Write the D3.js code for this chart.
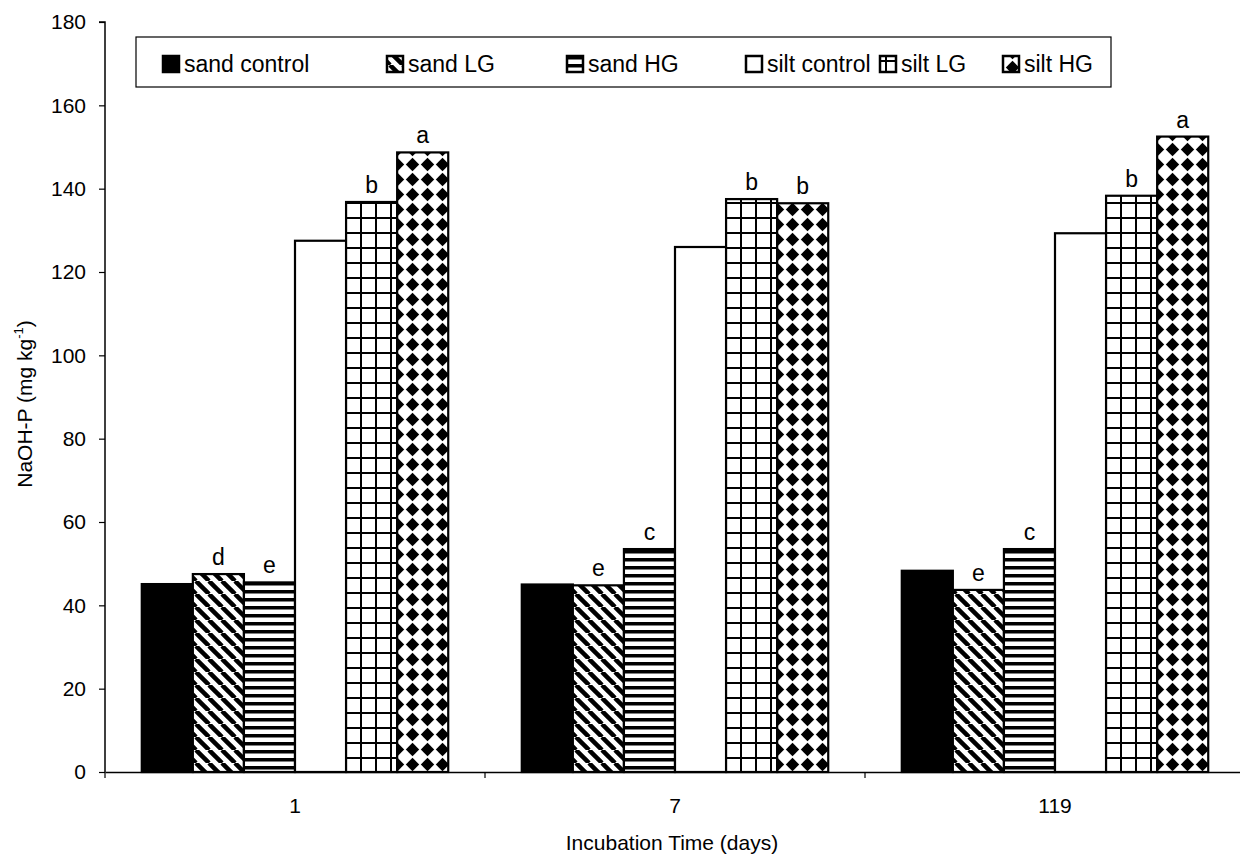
<!DOCTYPE html>
<html>
<head>
<meta charset="utf-8">
<script src="https://d3js.org/d3.v7.min.js"></script>
<style>
  body { margin: 0; background: #fff; }
  text { font-family: "Liberation Sans", Arial, sans-serif; fill: #000; }
</style>
</head>
<body>
<div id="chart"></div>
<script>
// data
const days = ["1", "7", "119"];
const treatments = ["sand control", "sand LG", "sand HG", "silt control", "silt LG", "silt HG"];
const sandControl = [45.1, 45.0, 48.3];
const sandLG      = [47.5, 44.8, 43.7];
const sandHG      = [45.5, 53.5, 53.5];
const siltControl = [127.5, 126.0, 129.3];
const siltLG      = [136.8, 137.5, 138.3];
const siltHG      = [148.7, 136.5, 152.5];
const letters = [
  ["", "d", "e", "", "b", "a"],
  ["", "e", "c", "", "b", "b"],
  ["", "e", "c", "", "b", "a"]
];
const yTicks = [0, 20, 40, 60, 80, 100, 120, 140, 160, 180];

const series = [sandControl, sandLG, sandHG, siltControl, siltLG, siltHG];
const fills = ["#000", "url(#p-diag)", "url(#p-horiz)", "#fff", "url(#p-grid)", "url(#p-diam)"];

const W = 1240, H = 855;
const margin = { top: 22, right: -5, bottom: 83, left: 105 };
const width = W - margin.left - margin.right;
const height = H - margin.top - margin.bottom;

const svg = d3.select("#chart").append("svg")
  .attr("width", W).attr("height", H);

// patterns
const defs = svg.append("defs");
const pd = defs.append("pattern").attr("id", "p-diag").attr("patternUnits", "userSpaceOnUse")
  .attr("width", 13).attr("height", 13);
pd.append("rect").attr("width", 13).attr("height", 13).attr("fill", "#fff");
[-13, 0, 13].forEach(o => pd.append("line")
  .attr("x1", o).attr("y1", 0).attr("x2", o + 13).attr("y2", 13)
  .attr("stroke", "#000").attr("stroke-width", 4.5));

const ph = defs.append("pattern").attr("id", "p-horiz").attr("patternUnits", "userSpaceOnUse")
  .attr("width", 8).attr("height", 8);
ph.append("rect").attr("width", 8).attr("height", 8).attr("fill", "#fff");
ph.append("rect").attr("y", 0).attr("width", 8).attr("height", 3.5).attr("fill", "#000");

const pg = defs.append("pattern").attr("id", "p-grid").attr("patternUnits", "userSpaceOnUse")
  .attr("width", 15).attr("height", 15);
pg.append("rect").attr("width", 15).attr("height", 15).attr("fill", "#fff");
pg.append("rect").attr("x", 0).attr("width", 2).attr("height", 15).attr("fill", "#000");
pg.append("rect").attr("y", 0).attr("width", 15).attr("height", 2).attr("fill", "#000");

const pm = defs.append("pattern").attr("id", "p-diam").attr("patternUnits", "userSpaceOnUse")
  .attr("width", 15).attr("height", 15);
pm.append("rect").attr("width", 15).attr("height", 15).attr("fill", "#fff");
pm.append("path").attr("d", "M7.5,0.8 L14.2,7.5 L7.5,14.2 L0.8,7.5 Z").attr("fill", "#000");

const g = svg.append("g").attr("transform", `translate(${margin.left},${margin.top})`);

const x0 = d3.scaleBand().domain(days).range([0, width]).paddingInner(0).paddingOuter(0);
const x1 = d3.scaleBand().domain(treatments).range([0, x0.bandwidth()]).paddingOuter(0.72);
const y = d3.scaleLinear().domain([0, 180]).range([height, 0]);

// bars
days.forEach((d, i) => {
  const grp = g.append("g").attr("transform", `translate(${x0(d)},0)`);
  treatments.forEach((t, k) => {
    const v = series[k][i];
    grp.append("rect")
      .attr("x", x1(t)).attr("y", y(v))
      .attr("width", x1.bandwidth()).attr("height", height - y(v))
      .attr("fill", fills[k]).attr("stroke", "#000").attr("stroke-width", 2.2);
    if (letters[i][k]) {
      grp.append("text")
        .attr("x", x1(t) + x1.bandwidth() / 2).attr("y", y(v) - 9)
        .attr("text-anchor", "middle").style("font-size", "23px")
        .text(letters[i][k]);
    }
  });
});

// y axis
const yAxis = g.append("g")
  .call(d3.axisLeft(y).tickValues(yTicks).tickSize(6).tickPadding(13));
yAxis.select(".domain").attr("stroke", "#000").attr("stroke-width", 1.5).attr("d", `M-6,0H0V${height}`);
yAxis.selectAll(".tick line").attr("stroke", "#000").attr("stroke-width", 1.2);
yAxis.selectAll(".tick text").style("font-size", "21px").attr("fill", "#000");

// x axis
const xAxis = g.append("g").attr("transform", `translate(0,${height})`)
  .call(d3.axisBottom(x0).tickSize(0).tickPadding(26));
xAxis.select(".domain").attr("stroke", "#000").attr("stroke-width", 1.5);
xAxis.selectAll(".tick text").style("font-size", "21px").attr("fill", "#000");
xAxis.selectAll(".sep").data(days).join("line").attr("class", "sep")
  .attr("x1", d => x0(d)).attr("x2", d => x0(d))
  .attr("y1", 0).attr("y2", 6).attr("stroke", "#000").attr("stroke-width", 1.2);

// axis titles
svg.append("text")
  .attr("transform", "translate(32,404) rotate(-90)")
  .attr("text-anchor", "middle").style("font-size", "21px")
  .html('NaOH-P (mg kg<tspan dy="-9" font-size="13px">-1</tspan><tspan dy="9">)</tspan>');
svg.append("text")
  .attr("x", 672).attr("y", 850).attr("text-anchor", "middle").style("font-size", "21px")
  .text("Incubation Time (days)");

// legend
const leg = svg.append("g");
leg.append("rect").attr("x", 136).attr("y", 37).attr("width", 975).attr("height", 50)
  .attr("fill", "#fff").attr("stroke", "#000").attr("stroke-width", 1.2);
const legX = [163, 387, 567, 746, 880, 1003];
treatments.forEach((t, k) => {
  leg.append("rect").attr("x", legX[k]).attr("y", 56).attr("width", 16).attr("height", 16)
    .attr("fill", fills[k]).attr("stroke", "#000").attr("stroke-width", 2.5);
  leg.append("text").attr("x", legX[k] + 21).attr("y", 72).style("font-size", "23px").text(t);
});
</script>
</body>
</html>
